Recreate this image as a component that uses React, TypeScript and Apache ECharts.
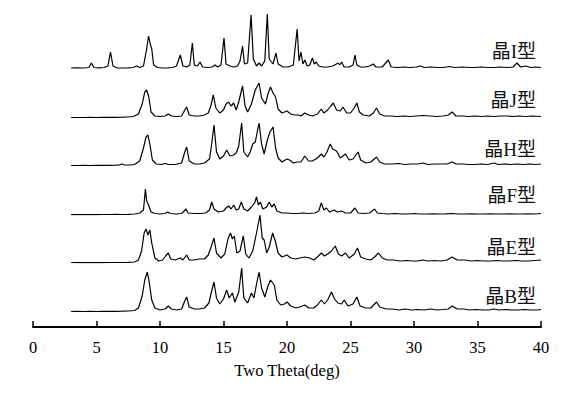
import React, { useEffect, useRef } from "react";
import * as echarts from "echarts";

const labels = ["晶I型", "晶J型", "晶H型", "晶F型", "晶E型", "晶B型"];
const xTicks = [0, 5, 10, 15, 20, 25, 30, 35, 40];

const seriesI: [number, number][] = [[3.0,1],[3.5,1.2],[4.0,1],[4.4,1.5],[4.6,6],[4.8,1.5],[5.2,1.2],[5.6,1.5],[5.9,3],[6.1,17],[6.3,3],[6.6,1.2],[7.0,1],[7.5,1.2],[7.9,1.5],[8.15,3],[8.4,1.5],[8.7,3],[8.95,20],[9.1,33],[9.25,24],[9.35,20],[9.5,4],[9.8,1.5],[10.2,1],[10.6,1.2],[11.0,1.5],[11.3,3],[11.6,14],[11.8,3],[12.1,2],[12.35,4],[12.55,26],[12.7,4],[12.95,3],[13.15,7],[13.35,2],[13.8,1.5],[14.1,2],[14.33,4],[14.55,2],[14.8,4],[15.04,31],[15.2,5],[15.5,3],[15.8,2],[16.1,3],[16.3,8],[16.5,23],[16.65,5],[16.9,6],[17.17,54],[17.35,10],[17.6,3],[17.8,6],[18.0,3],[18.25,8],[18.45,55],[18.6,10],[18.9,5],[19.13,16],[19.3,5],[19.7,2],[20.1,2],[20.5,4],[20.8,40],[20.95,8],[21.1,17],[21.25,5],[21.4,9],[21.6,3],[21.8,4],[22.0,11],[22.15,5],[22.3,7],[22.5,3],[22.8,2],[23.2,2],[23.6,3],[24.04,6],[24.15,4],[24.3,7],[24.5,2],[24.9,2],[25.2,4],[25.35,14],[25.5,4],[25.8,2],[26.2,2],[26.5,3],[26.8,5],[27.0,2],[27.5,2],[27.98,9],[28.2,2],[28.7,1.5],[29.2,2],[29.7,1.5],[30.2,2],[30.5,3],[30.8,1.5],[31.3,2],[31.8,1.5],[32.3,1.5],[32.8,2.5],[33.2,1.5],[33.8,2],[34.3,1.5],[34.8,1.5],[35.3,2],[35.8,1.5],[36.3,1.5],[36.8,2],[37.3,1.5],[37.8,2],[38.1,6],[38.4,2],[38.8,3],[39.2,1.5],[39.6,2],[40,1.5]];

const seriesJ: [number, number][] = [[3.0,0.5],[3.5,0.5],[4.0,0.5],[4.5,0.6],[5.0,0.5],[5.5,0.7],[6.0,0.6],[6.5,0.7],[7.0,0.8],[7.5,1],[7.9,1.5],[8.3,4],[8.6,14],[8.8,26],[8.95,28],[9.1,22],[9.3,6],[9.6,2],[10.0,1.5],[10.4,2],[10.65,4],[10.9,2],[11.3,1.5],[11.7,2],[11.95,8],[12.1,11],[12.3,3],[12.7,2],[13.1,2],[13.5,3],[13.8,5],[14.0,12],[14.2,23],[14.4,10],[14.7,5],[15.0,8],[15.2,14],[15.4,16],[15.6,12],[15.8,15],[16.0,8],[16.2,16],[16.5,32],[16.7,12],[16.9,6],[17.2,14],[17.5,28],[17.8,35],[18.0,20],[18.3,14],[18.5,24],[18.7,31],[18.9,25],[19.1,21],[19.3,9],[19.6,5],[20.0,7],[20.3,4],[20.6,3],[20.9,3],[21.1,2],[21.4,5],[21.7,3],[22.0,2],[22.4,4],[22.7,9],[22.9,5],[23.2,8],[23.45,12],[23.65,15],[23.9,8],[24.2,7],[24.4,11],[24.7,5],[25.0,5],[25.3,10],[25.5,15],[25.7,6],[26.0,3],[26.5,2],[26.8,5],[27.05,10],[27.3,4],[27.7,2],[28.2,2],[28.7,1.5],[29.2,2],[29.7,1.5],[30.2,2],[30.7,2.5],[31.3,2],[31.8,1.5],[32.3,2],[32.7,3],[33.0,6],[33.3,2],[33.8,2],[34.3,1.5],[34.8,2],[35.3,1.5],[35.8,2],[36.3,1.5],[36.8,2],[37.3,2],[37.8,1.5],[38.3,2],[38.8,1.5],[39.3,2],[40,1.5]];

const seriesH: [number, number][] = [[3.0,0.5],[3.5,0.5],[4.0,0.6],[4.5,0.5],[5.0,0.6],[5.5,0.7],[6.0,0.7],[6.5,0.8],[6.8,1],[7.0,2],[7.2,1],[7.6,1],[8.0,1.5],[8.4,5],[8.7,18],[8.9,29],[9.05,31],[9.2,22],[9.4,6],[9.7,2],[10.1,1.5],[10.4,2.5],[10.7,1.5],[11.2,1.5],[11.7,3],[11.95,14],[12.1,19],[12.3,5],[12.7,2],[13.1,2],[13.5,3],[13.9,7],[14.05,20],[14.25,41],[14.45,14],[14.7,7],[15.0,10],[15.25,16],[15.5,10],[15.8,11],[16.0,13],[16.2,20],[16.43,43],[16.6,14],[16.9,9],[17.1,14],[17.3,22],[17.5,24],[17.8,43],[18.0,22],[18.2,12],[18.45,26],[18.66,34],[18.9,39],[19.1,18],[19.3,8],[19.6,4],[20.0,7],[20.2,6],[20.5,3],[20.8,4],[21.1,4],[21.4,10],[21.7,5],[22.0,5],[22.4,8],[22.7,12],[22.9,9],[23.15,14],[23.4,22],[23.6,17],[23.9,15],[24.2,8],[24.6,12],[24.9,6],[25.2,7],[25.6,14],[25.8,6],[26.2,3],[26.6,4],[27.05,9],[27.3,4],[27.7,2],[28.3,2],[28.8,2.5],[29.3,1.5],[29.8,2],[30.3,2],[30.7,3],[31.1,1.5],[31.6,2],[32.1,2],[32.6,2],[33.0,4],[33.3,2],[33.8,2],[34.3,1.5],[34.8,1.5],[35.3,2],[35.8,1.5],[36.3,3],[36.6,1.5],[37.1,2],[37.6,1.5],[38.1,2],[38.6,1.5],[39.1,2],[39.6,1.5],[40,2]];

const seriesF: [number, number][] = [[3.0,0.3],[3.5,0.4],[4.0,0.3],[4.5,0.5],[5.0,0.4],[5.5,0.5],[6.0,0.5],[6.5,0.6],[7.0,0.5],[7.5,0.7],[8.0,1],[8.4,2],[8.7,5],[8.85,26],[8.95,14],[9.1,10],[9.3,3],[9.6,1.5],[10.0,1],[10.4,1.5],[10.6,3],[10.8,1.5],[11.3,1],[11.7,1.5],[11.9,4],[12.05,6],[12.2,2],[12.7,1.5],[13.2,1.5],[13.6,2],[13.9,5],[14.07,13],[14.25,6],[14.6,3],[15.0,4],[15.2,7],[15.4,9],[15.6,6],[15.8,10],[16.0,5],[16.2,6],[16.4,13],[16.6,6],[16.9,4],[17.2,8],[17.45,12],[17.6,18],[17.75,10],[17.9,13],[18.1,6],[18.4,8],[18.6,13],[18.8,8],[19.0,11],[19.2,4],[19.6,2],[20.0,2],[20.4,1.5],[20.8,1.5],[21.3,2],[21.7,1.5],[22.2,2],[22.5,4],[22.7,12],[22.9,5],[23.1,7],[23.35,3],[23.7,5],[23.95,3],[24.3,4],[24.6,2],[25.0,2],[25.35,7],[25.6,2],[26.0,1.5],[26.5,2],[26.9,6],[27.1,2],[27.5,1.5],[28.0,1],[28.5,1.5],[29.0,1],[29.5,1],[30.0,1.5],[30.5,1],[31.0,1],[31.5,1.2],[32.0,1],[32.5,1.2],[33.0,1.5],[33.5,1],[34.0,1],[34.5,1.2],[35.0,1],[35.5,1],[36.0,1.2],[36.5,1],[37.0,1],[37.5,1.2],[38.0,1],[38.5,1],[39.0,1.2],[39.5,1],[40,1.5]];

const seriesE: [number, number][] = [[3.0,0.5],[3.5,0.4],[4.0,0.5],[4.5,0.4],[5.0,0.5],[5.5,0.4],[6.0,0.5],[6.5,0.5],[7.0,0.5],[7.5,0.6],[8.0,1],[8.3,3],[8.55,12],[8.75,30],[8.9,34],[9.05,28],[9.2,33],[9.35,20],[9.6,5],[9.9,2],[10.2,3],[10.45,7],[10.65,10],[10.85,4],[11.2,3],[11.6,5],[11.8,3],[12.1,8],[12.3,3],[12.7,3],[13.1,4],[13.5,4],[13.8,8],[14.05,17],[14.25,25],[14.45,10],[14.8,5],[15.1,9],[15.35,24],[15.55,30],[15.7,24],[15.85,27],[16.05,10],[16.3,12],[16.56,27],[16.75,9],[17.0,5],[17.3,12],[17.6,30],[17.87,48],[18.05,25],[18.2,23],[18.4,10],[18.6,16],[18.87,30],[19.1,21],[19.3,10],[19.6,6],[20.0,8],[20.3,5],[20.7,4],[21.0,5],[21.4,6],[21.8,5],[22.1,3],[22.4,6],[22.7,10],[22.95,7],[23.2,9],[23.5,12],[23.8,17],[24.05,9],[24.3,7],[24.6,10],[24.9,5],[25.3,9],[25.55,15],[25.8,6],[26.2,4],[26.6,3],[26.9,6],[27.2,10],[27.5,5],[27.9,3],[28.4,3],[28.9,2],[29.4,2.5],[29.9,2],[30.3,2],[30.7,3],[31.1,2],[31.6,2.5],[32.1,2],[32.6,3],[33.0,6],[33.4,3],[34.0,3],[34.5,2],[35.0,2.5],[35.5,2],[36.0,2],[36.5,2.5],[37.0,2],[37.5,2],[38.0,2.5],[38.5,2],[39.0,2],[39.5,2.5],[40,3]];

const seriesB: [number, number][] = [[3.0,0.5],[3.5,0.6],[4.0,0.5],[4.5,0.6],[5.0,0.5],[5.5,0.6],[6.0,0.6],[6.5,0.7],[7.0,0.8],[7.5,1],[8.0,1.5],[8.3,4],[8.6,16],[8.8,32],[9.0,40],[9.15,30],[9.35,12],[9.6,4],[10.0,2],[10.4,3],[10.65,6],[10.9,3],[11.3,2],[11.7,3],[11.95,11],[12.1,15],[12.3,5],[12.7,3],[13.1,3],[13.5,4],[13.85,9],[14.05,20],[14.25,30],[14.45,14],[14.7,8],[15.0,13],[15.25,22],[15.45,14],[15.7,19],[15.9,10],[16.2,20],[16.43,44],[16.6,14],[16.9,9],[17.2,19],[17.4,14],[17.6,28],[17.8,40],[18.0,24],[18.25,15],[18.5,26],[18.7,32],[19.0,27],[19.2,12],[19.5,7],[19.8,8],[20.0,10],[20.3,6],[20.7,4],[21.0,5],[21.4,7],[21.7,4],[22.1,4],[22.4,7],[22.7,12],[22.95,8],[23.2,12],[23.5,20],[23.75,13],[24.0,9],[24.3,8],[24.5,12],[24.8,6],[25.2,8],[25.5,15],[25.75,6],[26.2,4],[26.6,4],[27.05,10],[27.3,5],[27.8,3],[28.3,3],[28.8,2],[29.3,3],[29.8,2],[30.3,2.5],[30.8,2],[31.3,3],[31.8,2],[32.3,2.5],[32.7,3],[33.0,6],[33.4,3],[33.9,3],[34.4,2],[34.9,2.5],[35.4,2],[35.9,2],[36.3,3],[36.7,2],[37.2,2.5],[37.7,2],[38.2,2],[38.7,2.5],[39.2,2],[39.7,2],[40,2.5]];

const allSeries = [seriesI, seriesJ, seriesH, seriesF, seriesE, seriesB];

export default function App() {
  const ref = useRef<HTMLDivElement>(null);
  useEffect(() => {
    if (!ref.current) return;
    const chart = echarts.init(ref.current, null, { renderer: "svg" });
    const baselines = [69, 118, 166, 215, 263, 312];
    const labelY = [52, 101, 150, 196, 248, 297];
    const H = 60;
    const font = "'Liberation Serif', 'Times New Roman', 'Noto Sans CJK SC', serif";
    const grids = baselines.map((b) => ({ left: 33, right: 27, top: b - H, height: H }));
    const last = baselines.length - 1;
    const xAxes = baselines.map((_, i) => ({
      type: "value",
      gridIndex: i,
      min: 0,
      max: 40,
      interval: 5,
      show: i === last,
      offset: i === last ? 327 - baselines[last] : 0,
      name: i === last ? "Two Theta(deg)" : "",
      nameLocation: "middle",
      nameGap: 35,
      nameTextStyle: { fontFamily: font, fontSize: 16.5, color: "#000" },
      axisLine: { show: true, onZero: false, lineStyle: { color: "#000", width: 2 } },
      axisTick: { show: true, inside: true, length: 6, lineStyle: { color: "#000", width: 1.5 } },
      axisLabel: {
        show: true,
        margin: 12,
        fontFamily: font,
        fontSize: 16.5,
        color: "#000",
        formatter: (v: number) => (xTicks.includes(v) ? String(v) : ""),
      },
      splitLine: { show: false },
    }));
    const yAxes = baselines.map((_, i) => ({
      type: "value",
      gridIndex: i,
      min: 0,
      max: H,
      show: false,
    }));
    const series = allSeries.map((d, i) => ({
      type: "line",
      name: labels[i],
      xAxisIndex: i,
      yAxisIndex: i,
      data: d,
      showSymbol: false,
      symbol: "none",
      lineStyle: { color: "#000", width: 1.2 },
      silent: true,
    }));
    const graphic = labels.map((t, i) => ({
      type: "text",
      right: 568 - 536,
      top: labelY[i] - 10,
      style: { text: t, fontFamily: font, fontSize: 19, fill: "#111" },
    }));
    chart.setOption({
      animation: false,
      backgroundColor: "#fff",
      grid: grids,
      xAxis: xAxes,
      yAxis: yAxes,
      series,
      graphic,
    });
    return () => chart.dispose();
  }, []);
  return (
    <div
      ref={ref}
      style={{ position: "absolute", left: 0, top: 0, width: 568, height: 394, background: "#fff" }}
    />
  );
}
